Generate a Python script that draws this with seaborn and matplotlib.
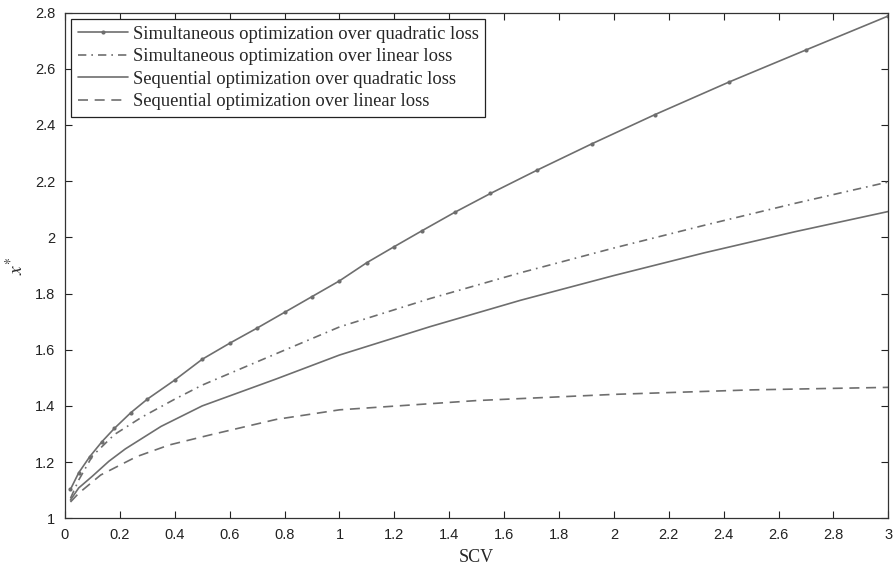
import matplotlib

matplotlib.use("Agg")
import matplotlib.pyplot as plt
import pandas as pd
import seaborn as sns

# simultaneous optimization, quadratic loss (marked points)
sim_quad_x = [0.02, 0.05, 0.09, 0.135, 0.18, 0.24, 0.30, 0.40, 0.50, 0.60, 0.70, 0.80, 0.90,
              1.00, 1.10, 1.20, 1.30, 1.42, 1.55, 1.72, 1.92, 2.15, 2.42, 2.70, 3.00]
sim_quad_y = [1.103, 1.162, 1.219, 1.273, 1.320, 1.376, 1.424, 1.492, 1.566, 1.623, 1.677, 1.733, 1.789,
              1.845, 1.910, 1.967, 2.023, 2.089, 2.156, 2.239, 2.333, 2.437, 2.553, 2.667, 2.788]

# simultaneous optimization, linear loss
sim_lin_x = [0.02, 0.05, 0.10, 0.18, 0.28, 0.40, 0.50, 0.77, 1.00, 1.33, 1.66, 2.00, 2.33, 2.66, 3.00]
sim_lin_y = [1.071, 1.136, 1.222, 1.298, 1.360, 1.424, 1.474, 1.586, 1.681, 1.782, 1.874, 1.962, 2.043, 2.121, 2.197]

# sequential optimization, quadratic loss
seq_quad_x = [0.02, 0.05, 0.10, 0.16, 0.22, 0.35, 0.50, 0.77, 1.00, 1.33, 1.66, 2.00, 2.33, 2.66, 3.00]
seq_quad_y = [1.065, 1.108, 1.150, 1.203, 1.247, 1.327, 1.400, 1.496, 1.581, 1.682, 1.776, 1.864, 1.945, 2.020, 2.092]

# sequential optimization, linear loss
seq_lin_x = [0.02, 0.05, 0.13, 0.26, 0.38, 0.53, 0.77, 1.00, 1.50, 2.00, 2.50, 3.00]
seq_lin_y = [1.058, 1.089, 1.154, 1.219, 1.261, 1.297, 1.352, 1.386, 1.419, 1.441, 1.457, 1.466]

labels = [
    "Simultaneous optimization over quadratic loss",
    "Simultaneous optimization over linear loss",
    "Sequential optimization over quadratic loss",
    "Sequential optimization over linear loss",
]

x_ticks = [0, 0.2, 0.4, 0.6, 0.8, 1, 1.2, 1.4, 1.6, 1.8, 2, 2.2, 2.4, 2.6, 2.8, 3]
y_ticks = [1, 1.2, 1.4, 1.6, 1.8, 2, 2.2, 2.4, 2.6, 2.8]

sns.set_theme(style="ticks")
plt.rcParams["font.family"] = ["Liberation Sans Narrow", "Liberation Sans", "DejaVu Sans"]
plt.rcParams["mathtext.fontset"] = "stix"

fig = plt.figure(figsize=(8.95, 5.76), dpi=100)
ax = fig.add_axes([0.0726, 0.1002, 0.92, 0.878])

gray = "#6e6e6e"
lw = 1.2

sns.lineplot(data=pd.DataFrame({"x": sim_quad_x, "y": sim_quad_y}), x="x", y="y", ax=ax,
             color=gray, linewidth=lw, marker="o", markersize=3.0, markeredgewidth=0,
             label=labels[0])
sns.lineplot(data=pd.DataFrame({"x": sim_lin_x, "y": sim_lin_y}), x="x", y="y", ax=ax,
             color=gray, linewidth=lw, linestyle=(0, (5, 3, 1, 3)), label=labels[1])
sns.lineplot(data=pd.DataFrame({"x": seq_quad_x, "y": seq_quad_y}), x="x", y="y", ax=ax,
             color=gray, linewidth=lw, label=labels[2])
sns.lineplot(data=pd.DataFrame({"x": seq_lin_x, "y": seq_lin_y}), x="x", y="y", ax=ax,
             color=gray, linewidth=lw, linestyle=(0, (6, 4)), label=labels[3])

ax.set_xlim(0, 3)
ax.set_ylim(1, 2.8)
ax.set_xticks(x_ticks)
ax.set_xticklabels([f"{t:g}" for t in x_ticks])
ax.set_yticks(y_ticks)
ax.set_yticklabels([f"{t:g}" for t in y_ticks])
ax.tick_params(direction="in", length=5, width=0.8, top=True, right=True,
               labelsize=10.5, colors="#222222", pad=7)
for spine in ax.spines.values():
    spine.set_visible(True)
    spine.set_linewidth(0.9)
    spine.set_color("#333333")

ax.set_xlabel("SCV", family="Liberation Serif", fontsize=13, labelpad=5)
ax.set_ylabel(r"$x^{*}$", fontsize=14, labelpad=6)

leg = ax.legend(loc="upper left", prop={"family": "Liberation Serif", "size": 13.4},
                frameon=True, fancybox=False, edgecolor="#222222", framealpha=1,
                borderaxespad=0.35, handlelength=2.7, handletextpad=0.25,
                labelspacing=0.3, borderpad=0.35)
leg.get_frame().set_linewidth(0.9)

fig.savefig("out.png", dpi=100)
